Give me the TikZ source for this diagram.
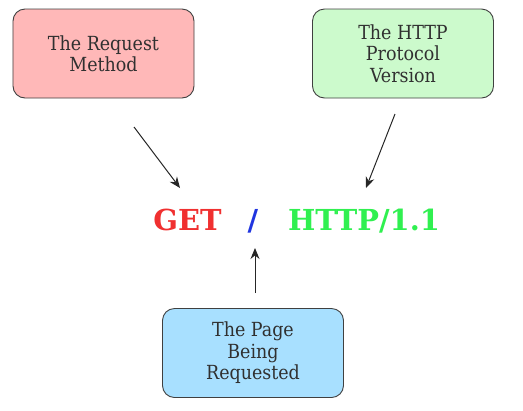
\documentclass[tikz,border=0pt]{standalone}
\usepackage{fontspec}
\setmainfont{DejaVu Serif}
\newfontfamily\boxfont{DejaVu Serif Condensed}
\usetikzlibrary{arrows.meta}
\definecolor{redfill}{HTML}{FFB8B8}
\definecolor{greenfill}{HTML}{CCFACC}
\definecolor{bluefill}{HTML}{A8E0FF}
\definecolor{boxline}{HTML}{404040}
\definecolor{txt}{HTML}{303030}
\definecolor{getred}{HTML}{F03030}
\definecolor{slashblue}{HTML}{2035E0}
\definecolor{httpgreen}{HTML}{30F050}
\tikzset{
  infobox/.style={draw=boxline, line width=0.9bp, rounded corners=12bp,
    minimum width=181bp, minimum height=89bp, align=center,
    font=\boxfont\fontsize{19.5}{21.5}\selectfont, text=txt, inner sep=0pt},
  bigword/.style={font=\fontsize{29}{34}\selectfont\bfseries, anchor=base, inner sep=0pt},
  pointer/.style={draw=black!85, line width=1bp, -{Stealth[length=11bp,width=9bp]}}
}
\begin{document}
\begin{tikzpicture}[x=1bp,y=-1bp]
\useasboundingbox (0,0) rectangle (523,410);
\node[infobox, fill=redfill] (req) at (103.5,53.5) {The Request\\Method};
\node[infobox, fill=greenfill] (ver) at (403,53.5) {The HTTP\\Protocol\\Version};
\node[infobox, fill=bluefill] (page) at (253,353) {The Page\\Being\\Requested};
\node[bigword, text=getred] (get) at (187.5,230) {GET};
\node[bigword, text=slashblue] (slash) at (253,230) {/};
\node[bigword, text=httpgreen] (http) at (364,230) {HTTP/1.1};
\coordinate (a1s) at (134,127);
\coordinate (a1e) at (180,188);
\coordinate (a2s) at (395,114);
\coordinate (a2e) at (366,188);
\coordinate (a3s) at (255,293);
\coordinate (a3e) at (255,248);
\draw[pointer] (a1s) -- (a1e);
\draw[pointer] (a2s) -- (a2e);
\draw[pointer] (a3s) -- (a3e);
\end{tikzpicture}
\end{document}
